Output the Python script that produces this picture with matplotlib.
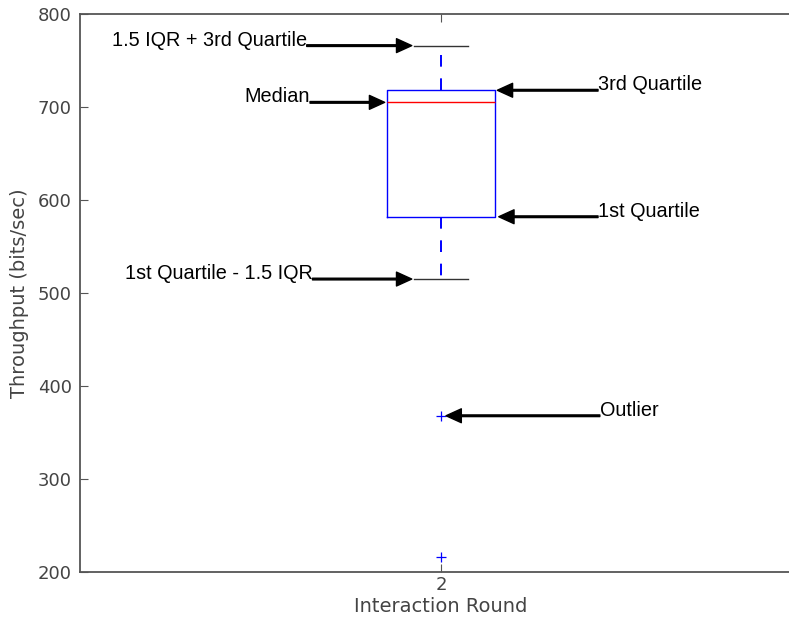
import matplotlib
matplotlib.use("Agg")
from matplotlib import pyplot as plt

# box statistics for interaction round 2 (bits/sec)
round_labels = [2]
q1 = [582]
median = [705]
q3 = [718]
whisker_low = [515]
whisker_high = [766]
outliers = [[368, 216]]

# annotation text and where it points
ann_text = ["1.5 IQR + 3rd Quartile", "Median", "3rd Quartile",
            "1st Quartile", "1st Quartile - 1.5 IQR", "Outlier"]

fig = plt.figure(figsize=(7.89, 6.17), dpi=100)
ax = fig.add_axes([80 / 789, 45 / 617, 722 / 789, 558 / 617])

stats = []
for i in range(len(round_labels)):
    stats.append({'med': median[i], 'q1': q1[i], 'q3': q3[i],
                  'whislo': whisker_low[i], 'whishi': whisker_high[i],
                  'fliers': outliers[i]})

ax.bxp(stats, positions=round_labels, widths=0.15,
       boxprops=dict(color='blue', linewidth=1),
       medianprops=dict(color='red', linewidth=1),
       whiskerprops=dict(color='blue', linestyle=(0, (6, 6)), linewidth=1.4),
       capprops=dict(color='#333333', linewidth=1),
       flierprops=dict(marker='+', color='blue', markeredgecolor='blue',
                       markersize=7, markeredgewidth=0.9, linestyle='none'))

ax.set_xlim(1.5, 2.5)
ax.set_ylim(200, 800)
ax.set_yticks([200, 300, 400, 500, 600, 700, 800])
ax.set_xticks(round_labels)
ax.set_xticklabels([str(r) for r in round_labels])

for s in ax.spines.values():
    s.set_color('#555555')
    s.set_linewidth(1.3)
ax.spines['right'].set_visible(False)
ax.tick_params(direction='in', length=6, width=0.8, colors='#555555',
               labelcolor='#444444', labelsize=13, top=True, right=False)
ax.tick_params(axis='y', pad=6)
ax.tick_params(axis='x', pad=3)
ax.set_ylabel("Throughput (bits/sec)", fontsize=14, color='#444444', labelpad=6)
ax.set_xlabel("Interaction Round", fontsize=14, color='#444444', labelpad=2)

arrow = dict(facecolor='black', edgecolor='black', width=1.2,
             headwidth=10, headlength=11, shrink=0)
font = dict(fontsize=14.3, family='Liberation Sans', color='black')

# whisker caps, box edges and the first outlier
cap_left = round_labels[0] - 0.0375
box_left = round_labels[0] - 0.075
box_right = round_labels[0] + 0.075

def label_arrow(text, tip_x, tail_x, y, side):
    ax.annotate('', xy=(tip_x, y), xytext=(tail_x, y), arrowprops=arrow)
    ax.text(tail_x, y, text, ha=side, va='baseline', **font)

label_arrow(ann_text[0], cap_left - 0.003, 1.814, whisker_high[0], 'right')
label_arrow(ann_text[1], box_left - 0.003, 1.8186, median[0], 'right')
label_arrow(ann_text[2], box_right + 0.003, 2.2175, q3[0], 'left')
label_arrow(ann_text[3], box_right + 0.005, 2.2175, q1[0], 'left')
label_arrow(ann_text[4], cap_left - 0.003, 1.822, whisker_low[0], 'right')
label_arrow(ann_text[5], round_labels[0] + 0.007, 2.22, outliers[0][0], 'left')

fig.savefig("out.png", dpi=100)
